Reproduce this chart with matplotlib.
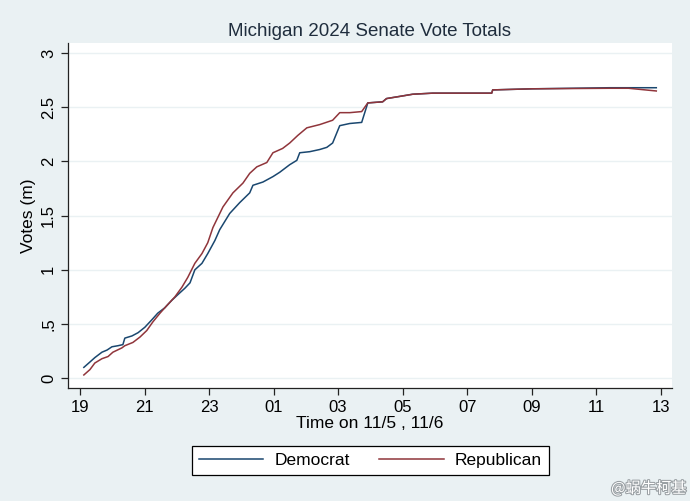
import matplotlib.pyplot as plt
import matplotlib.patheffects as pe

# hours since midnight on 11/5 (24+ = 11/6)
dem_t = [19.12, 19.31, 19.46, 19.68, 19.84, 19.99, 20.18, 20.33, 20.39, 20.61,
         20.80, 21.01, 21.23, 21.41, 21.63, 21.85, 22.03, 22.25, 22.41, 22.56,
         22.78, 22.96, 23.18, 23.33, 23.64, 23.95, 24.26, 24.36, 24.67, 24.98,
         25.19, 25.50, 25.72, 25.81, 26.12, 26.43, 26.65, 26.83, 27.05, 27.36,
         27.73, 27.92, 28.38, 28.50, 28.91, 29.31, 29.93, 30.46, 31.76, 31.79,
         33.02, 35.41, 36.86]
dem_v = [0.10, 0.15, 0.19, 0.24, 0.26, 0.29, 0.30, 0.31, 0.37, 0.39,
         0.42, 0.47, 0.54, 0.60, 0.65, 0.72, 0.77, 0.83, 0.88, 1.00,
         1.06, 1.15, 1.27, 1.37, 1.52, 1.62, 1.71, 1.78, 1.81, 1.86,
         1.90, 1.97, 2.01, 2.08, 2.09, 2.11, 2.13, 2.17, 2.33, 2.35,
         2.36, 2.54, 2.55, 2.58, 2.60, 2.62, 2.63, 2.63, 2.63, 2.66,
         2.67, 2.68, 2.68]

rep_t = [19.12, 19.31, 19.46, 19.68, 19.87, 20.02, 20.30, 20.39, 20.64, 20.86,
         21.07, 21.26, 21.48, 21.69, 21.94, 22.16, 22.34, 22.56, 22.78, 22.96,
         23.12, 23.43, 23.74, 24.05, 24.26, 24.48, 24.79, 24.98, 25.28, 25.50,
         25.75, 26.03, 26.43, 26.83, 27.05, 27.36, 27.73, 27.92, 28.38, 28.50,
         28.91, 29.31, 29.93, 30.46, 31.76, 31.79, 33.02, 35.41, 36.00, 36.86]
rep_v = [0.03, 0.08, 0.14, 0.18, 0.20, 0.24, 0.28, 0.30, 0.33, 0.38,
         0.44, 0.52, 0.60, 0.67, 0.75, 0.84, 0.93, 1.06, 1.15, 1.25,
         1.39, 1.58, 1.71, 1.80, 1.89, 1.95, 1.99, 2.08, 2.12, 2.17,
         2.24, 2.31, 2.34, 2.38, 2.45, 2.45, 2.46, 2.54, 2.55, 2.58,
         2.60, 2.62, 2.63, 2.63, 2.63, 2.66, 2.67, 2.675, 2.675, 2.65]

xticks = [19, 21, 23, 25, 27, 29, 31, 33, 35, 37]
xlabels = ["19", "21", "23", "01", "03", "05", "07", "09", "11", "13"]
yticks = [0, 0.5, 1, 1.5, 2, 2.5, 3]
ylabels = ["0", ".5", "1", "1.5", "2", "2.5", "3"]

bg = '#eaf1f3'
plt.rcParams['font.family'] = ['Liberation Sans', 'DejaVu Sans']

fig = plt.figure(figsize=(6.9, 5.01), dpi=100, facecolor=bg)
ax = fig.add_axes([0.0986, 0.2256, 0.875, 0.688])
ax.set_facecolor('white')

l1, = ax.plot(dem_t, dem_v, color='#1a476f', lw=1.1, label='Democrat')
l2, = ax.plot(rep_t, rep_v, color='#90353b', lw=1.1, label='Republican')

ax.set_xlim(18.63, 37.34)
ax.set_ylim(-0.09, 3.09)
ax.set_xticks(xticks)
ax.set_xticklabels(xlabels)
ax.set_yticks(yticks)
ax.set_yticklabels(ylabels, rotation=90, va='center')
ax.grid(axis='y', color='#eaf1f3', lw=1)
ax.set_axisbelow(True)

for s in ['top', 'right']:
    ax.spines[s].set_visible(False)
for s in ['left', 'bottom']:
    ax.spines[s].set_color('#222222')
    ax.spines[s].set_linewidth(0.9)
ax.tick_params(direction='out', length=5, width=0.9, labelsize=12, colors='#222222', labelcolor='black')

ax.set_title("Michigan 2024 Senate Vote Totals", fontsize=13.5, color='#1f2d3d', pad=5)
ax.set_xlabel("Time on 11/5 , 11/6", fontsize=12.5, labelpad=1)
ax.set_ylabel("Votes (m)", fontsize=12.5, labelpad=4)

leg = fig.legend(handles=[l1, l2], loc='center', bbox_to_anchor=(0.537, 0.08), ncol=2,
                 fontsize=12.5, frameon=True, fancybox=False, edgecolor='black',
                 facecolor='white', framealpha=1, handlelength=3.7, columnspacing=1.7,
                 borderpad=0.4, handletextpad=0.65)
leg.get_frame().set_linewidth(0.9)

fig.text(0.995, 0.025, "@蜗牛柯基", fontsize=11, ha='right', va='center', color='white',
         family=['Noto Sans CJK SC', 'DejaVu Sans'],
         path_effects=[pe.withStroke(linewidth=1.5, foreground='#9aa0a4')])

fig.savefig('out.png', dpi=100, facecolor=bg)
